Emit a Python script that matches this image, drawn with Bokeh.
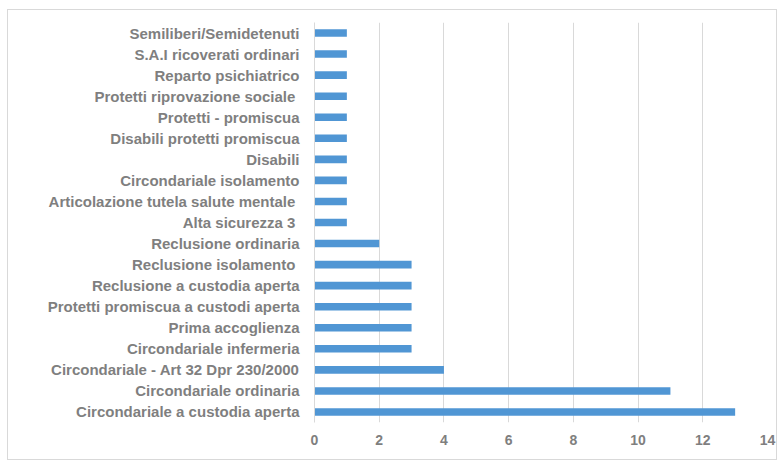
from bokeh.plotting import figure
from bokeh.models import ColumnDataSource, FixedTicker
from bokeh.embed import file_html
from bokeh.resources import INLINE

categories = [
    "Circondariale a custodia aperta",
    "Circondariale ordinaria",
    "Circondariale - Art 32 Dpr 230/2000",
    "Circondariale infermeria",
    "Prima accoglienza",
    "Protetti promiscua a custodi aperta",
    "Reclusione a custodia aperta",
    "Reclusione isolamento ",
    "Reclusione ordinaria",
    "Alta sicurezza  3",
    "Articolazione tutela salute mentale ",
    "Circondariale isolamento",
    "Disabili",
    "Disabili protetti promiscua",
    "Protetti - promiscua",
    "Protetti riprovazione sociale ",
    "Reparto psichiatrico",
    "S.A.I ricoverati ordinari",
    "Semiliberi/Semidetenuti",
]
values = [13, 11, 4, 3, 3, 3, 3, 3, 2, 1, 1, 1, 1, 1, 1, 1, 1, 1, 1]
x_ticks = [0, 2, 4, 6, 8, 10, 12, 14]

src = ColumnDataSource(data=dict(cat=categories, val=values))

p = figure(
    y_range=categories, x_range=(0, 14),
    width=770, height=451,
    output_backend="svg", toolbar_location=None,
    min_border_left=306, min_border_right=11,
    min_border_top=12, min_border_bottom=39,
)
p.hbar(y="cat", right="val", left=0, height=0.36, source=src,
       color="#5096D4", line_color=None)

p.outline_line_color = None
p.background_fill_color = "white"
p.border_fill_color = "white"
p.styles = {"border": "1px solid #d9d9d9", "box-sizing": "border-box",
            "margin": "9px 0 0 7px"}

p.xgrid.ticker = FixedTicker(ticks=x_ticks)
p.xgrid.grid_line_color = "#d9d9d9"
p.ygrid.grid_line_color = None

p.xaxis.ticker = FixedTicker(ticks=x_ticks)
p.xaxis.axis_line_color = None
p.xaxis.major_tick_line_color = None
p.xaxis.minor_tick_line_color = None
p.xaxis.major_label_standoff = 6
p.xaxis.major_label_text_font = "Liberation Sans"
p.xaxis.major_label_text_font_style = "bold"
p.xaxis.major_label_text_font_size = "14px"
p.xaxis.major_label_text_color = "#7f7f7f"

p.yaxis.axis_line_color = "#d9d9d9"
p.yaxis.major_tick_line_color = None
p.yaxis.minor_tick_line_color = None
p.yaxis.major_label_standoff = 9
p.yaxis.major_label_text_font = "Liberation Sans"
p.yaxis.major_label_text_font_style = "bold"
p.yaxis.major_label_text_font_size = "15px"
p.yaxis.major_label_text_color = "#7f7f7f"

open("out.html", "w").write(file_html(p, INLINE))
